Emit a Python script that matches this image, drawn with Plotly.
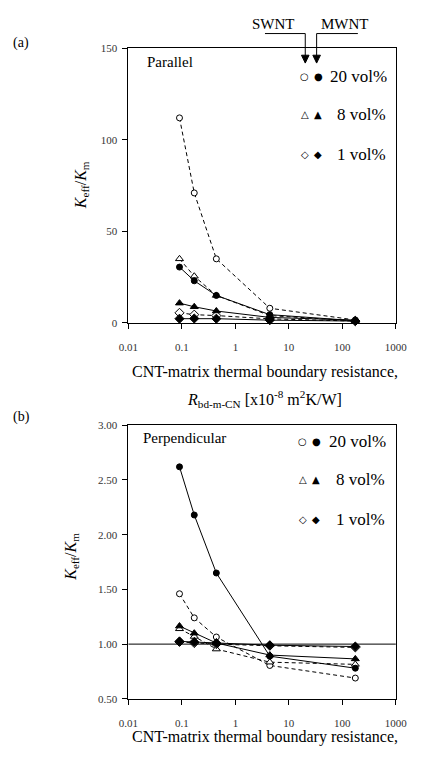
import plotly.graph_objects as go

W, H = 422, 757

# ---------------- data ----------------
r_bd = [0.09, 0.17, 0.44, 4.4, 175]  # x10^-8 m2K/W

# Panel (a) parallel
par_swnt_20 = [112, 71, 35, 8, 1.6]
par_mwnt_20 = [30.5, 23, 15, 4.5, 1.2]
par_swnt_8 = [35, 25.5, 15, 4, 1.1]
par_mwnt_8 = [10.8, 8.8, 6.5, 3, 1.5]
par_swnt_1 = [5.5, 4.5, 4, 2.2, 1.0]
par_mwnt_1 = [2.3, 2.4, 2.3, 1.5, 1.0]

# Panel (b) perpendicular
per_swnt_20 = [1.46, 1.24, 1.065, 0.805, 0.69]
per_mwnt_20 = [2.62, 2.18, 1.65, 0.89, 0.78]
per_swnt_8 = [1.14, 1.07, 0.955, 0.835, 0.815]
per_mwnt_8 = [1.165, 1.10, 1.01, 0.90, 0.865]
per_swnt_1 = [1.02, 1.01, 1.00, 0.985, 0.97]
per_mwnt_1 = [1.025, 1.02, 1.01, 0.99, 0.978]

x_tickvals = [0.01, 0.1, 1, 10, 100, 1000]
x_ticktext = ["0.01", "0.1", "1", "10", "100", "1000"]
y1_ticks = [0, 50, 100, 150]
y2_ticks = [0.5, 1.0, 1.5, 2.0, 2.5, 3.0]

SERIF = "Liberation Serif"


def px(x):
    return x / W


def py(y):
    return 1 - y / H


fig = go.Figure()

series = [
    (par_swnt_20, "circle", False), (par_swnt_8, "triangle-up", False), (par_swnt_1, "diamond", False),
    (par_mwnt_20, "circle", True), (par_mwnt_8, "triangle-up", True), (par_mwnt_1, "diamond", True),
]
series_b = [
    (per_swnt_20, "circle", False), (per_swnt_8, "triangle-up", False), (per_swnt_1, "diamond", False),
    (per_mwnt_20, "circle", True), (per_mwnt_8, "triangle-up", True), (per_mwnt_1, "diamond", True),
]

for xa, ya, ser in (("x", "y", series), ("x2", "y2", series_b)):
    for vals, sym, filled in ser:
        fig.add_trace(go.Scatter(
            x=r_bd, y=vals, xaxis=xa, yaxis=ya, mode="lines+markers",
            line=dict(color="black", width=1, dash="solid" if filled else "4px,3px"),
            marker=dict(symbol=sym, size=7 if sym != "circle" else 6,
                        color="black" if filled else "white",
                        line=dict(color="black", width=1)),
            cliponaxis=False, showlegend=False,
        ))

xdom = [px(125), px(407)]
axis_common = dict(showline=True, linecolor="black", linewidth=1, mirror=True,
                   ticks="outside", ticklen=5, tickcolor="black", showgrid=False,
                   zeroline=False, tickfont=dict(family=SERIF, size=11, color="#333"))

fig.update_layout(
    width=W, height=H, margin=dict(l=0, r=0, t=0, b=0),
    paper_bgcolor="white", plot_bgcolor="white",
    xaxis=dict(domain=xdom, anchor="y", type="log", range=[-2, 3],
               tickvals=x_tickvals, ticktext=x_ticktext, ticklabelstandoff=9, **axis_common),
    yaxis=dict(domain=[py(322), py(43)], anchor="x", range=[0, 150],
               tickvals=y1_ticks, ticklabelstandoff=3, **axis_common),
    xaxis2=dict(domain=xdom, anchor="y2", type="log", range=[-2, 3],
                tickvals=x_tickvals, ticktext=x_ticktext, ticklabelstandoff=9, **axis_common),
    yaxis2=dict(domain=[py(704), py(426)], anchor="x2", range=[0.5, 3.0],
                tickvals=y2_ticks, tickformat=".2f", ticklabelstandoff=3, **axis_common),
)

# horizontal reference line at 1.0 in panel (b)
fig.add_shape(type="line", xref="x2 domain", yref="y2", x0=0, x1=1, y0=1.0, y1=1.0,
              line=dict(color="black", width=1))

ann = []


def text(x, y, t, size=15, xanchor="center", **kw):
    ann.append(dict(x=px(x), y=py(y), xref="paper", yref="paper", text=t, showarrow=False,
                    xanchor=xanchor, yanchor="middle",
                    font=dict(family=kw.pop("family", SERIF), size=size, color="black"), **kw))


text(12, 38, "(a)", 14)
text(12, 418, "(b)", 14)
text(142, 57, "Parallel", 15, "left")
text(138, 439, "Perpendicular", 15, "left")
text(278, 18, "SWNT", 15)
text(353, 18, "MWNT", 15)

ytitle = "<i>K</i><sub>eff</sub>/<i>K</i><sub>m</sub>"
text(75, 182, ytitle, 16, textangle=-90)
text(64, 560, ytitle, 16, textangle=-90)

text(269, 372, "CNT-matrix thermal boundary resistance,", 16)
text(268, 399, "<i>R</i><sub>bd-m-CN</sub> [x10<sup>-8</sup> m<sup>2</sup>K/W]", 16)
text(269, 743, "CNT-matrix thermal boundary resistance,", 16)

# legends (glyphs)
DV = "DejaVu Sans"
leg_a = [(72, "○", "●", "20 vol%", 335), (110, "△", "▲", "8 vol%", 343), (151, "◇", "◆", "1 vol%", 343)]
leg_b = [(443, "○", "●", "20 vol%", 334), (481, "△", "▲", "8 vol%", 342), (522, "◇", "◆", "1 vol%", 342)]
for legs, dx in ((leg_a, 0), (leg_b, -2)):
    for y, o, f, t, tx in legs:
        text(311 + dx, y, o, 10, family=DV)
        text(325 + dx, y, f, 10, family=DV)
        text(tx, y, t, 17, "left")

fig.update_layout(annotations=ann)

# SWNT / MWNT arrows
for xs, xe in ((269, 311.5), (367, 323.5)):
    fig.add_shape(type="path", xref="paper", yref="paper",
                  path=f"M {px(xs)} {py(28)} L {px(xe)} {py(28)} L {px(xe)} {py(51)}",
                  line=dict(color="black", width=1))
    fig.add_shape(type="path", xref="paper", yref="paper",
                  path=f"M {px(xe-4)} {py(50)} L {px(xe+4)} {py(50)} L {px(xe)} {py(58)} Z",
                  line=dict(color="black", width=1), fillcolor="black")

fig.write_html("out.html")
